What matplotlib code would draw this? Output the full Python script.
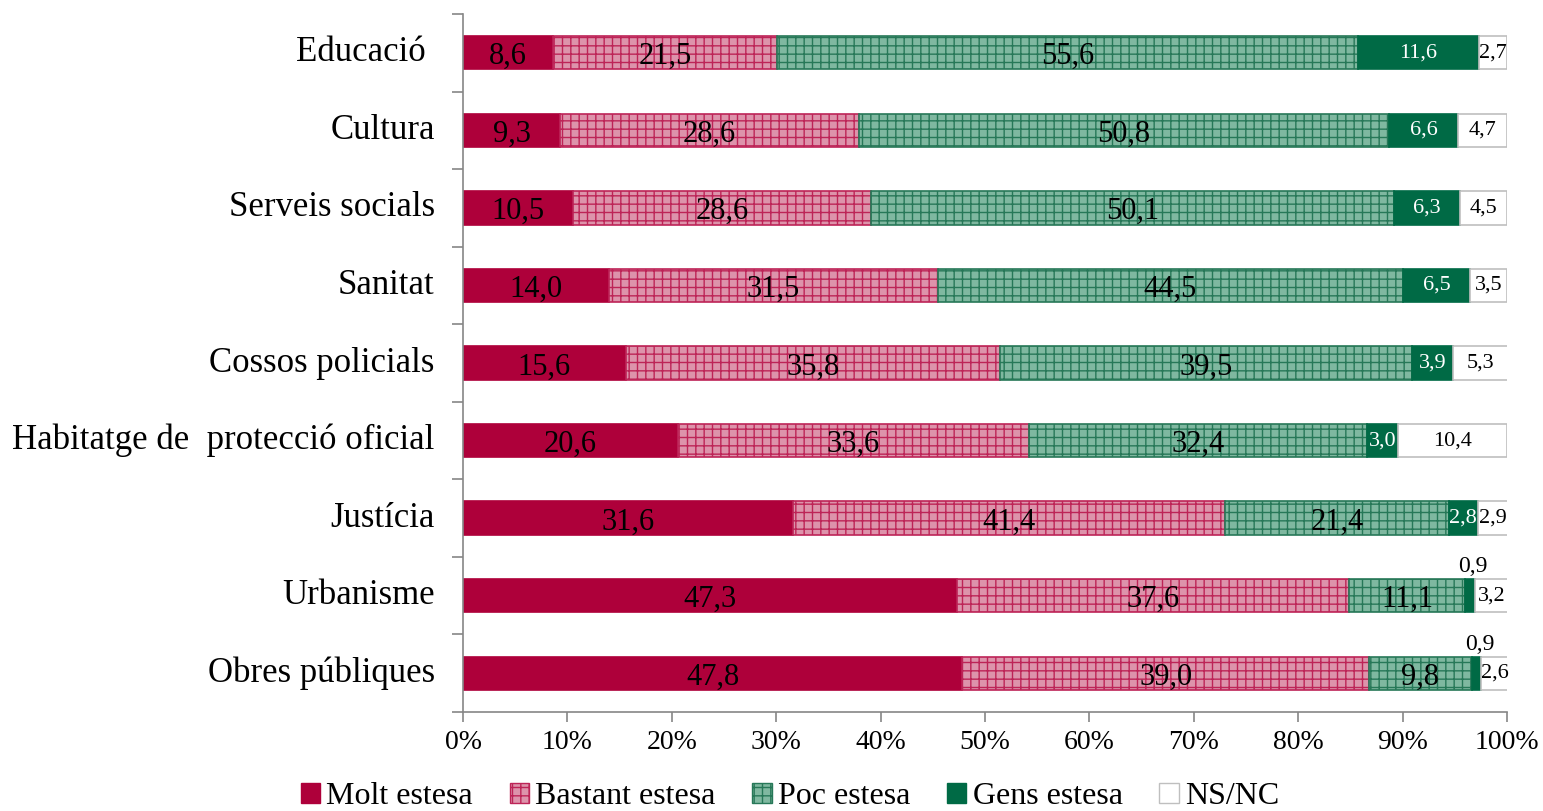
import matplotlib
matplotlib.use("Agg")
import matplotlib.pyplot as plt
import numpy as np
from matplotlib.patches import Patch

plt.rcParams["font.family"] = ["Liberation Serif", "DejaVu Serif"]
plt.rcParams["hatch.linewidth"] = 1.0

# ── data ────────────────────────────────────────────────
categories = ["Educació ", "Cultura", "Serveis socials", "Sanitat", "Cossos policials",
              "Habitatge de  protecció oficial", "Justícia", "Urbanisme", "Obres públiques"]
series = ["Molt estesa", "Bastant estesa", "Poc estesa", "Gens estesa", "NS/NC"]
molt = [8.6, 9.3, 10.5, 14.0, 15.6, 20.6, 31.6, 47.3, 47.8]
bastant = [21.5, 28.6, 28.6, 31.5, 35.8, 33.6, 41.4, 37.6, 39.0]
poc = [55.6, 50.8, 50.1, 44.5, 39.5, 32.4, 21.4, 11.1, 9.8]
gens = [11.6, 6.6, 6.3, 6.5, 3.9, 3.0, 2.8, 0.9, 0.9]
nsnc = [2.7, 4.7, 4.5, 3.5, 5.3, 10.4, 2.9, 3.2, 2.6]
xticks = [0, 10, 20, 30, 40, 50, 60, 70, 80, 90, 100]

# ── styles ──────────────────────────────────────────────
styles = [
    dict(color="#ae003a", edgecolor="#ae003a"),
    dict(color="#dd93ab", edgecolor="#bd2457", hatch="++"),
    dict(color="#7fb8a0", edgecolor="#277858", hatch="++"),
    dict(color="#006a45", edgecolor="#006a45"),
    dict(color="white", edgecolor="#bfbfbf"),
]

fig = plt.figure(figsize=(15.43, 8.11), dpi=100)
ax = fig.add_axes([463 / 1543, 1 - 712 / 811, (1507 - 463) / 1543, (712 - 14) / 811])

y = np.arange(len(categories))
h = 0.43
data = [molt, bastant, poc, gens, nsnc]
left = np.zeros(len(categories))
for vals, st, name in zip(data, styles, series):
    vals = np.array(vals)
    ax.barh(y, vals, height=h, left=left, linewidth=1.2, label=name, **st)
    left = left + vals

# value labels
left = np.zeros(len(categories))
for si, vals in enumerate(data):
    for i, v in enumerate(vals):
        txt = f"{v:.1f}".replace(".", ",")
        cx = left[i] + v / 2
        if si < 3:
            ax.text(cx, i + 0.05, txt, ha="center", va="center", fontsize=22, color="black")
        elif si == 3:
            if v < 2:
                ax.text(cx + 0.3, i - 0.37, txt, ha="center", va="center", fontsize=17,
                        color="black")
            else:
                ax.text(cx, i, txt, ha="center", va="center", fontsize=16, color="white")
        else:
            ax.text(cx, i, txt, ha="center", va="center", fontsize=16, color="black")
    left = left + np.array(vals)

ax.set_xlim(0, 100)
ax.set_ylim(len(categories) - 0.5, -0.5)
ax.set_xticks(xticks)
ax.set_xticklabels([f"{t}%" for t in xticks], fontsize=20)
ax.set_yticks(np.arange(-0.5, len(categories)), labels=[""] * (len(categories) + 1))
for i, c in enumerate(categories):
    ax.text(-2.7, i, c, ha="right", va="center", fontsize=25)
ax.tick_params(axis="y", length=8, color="#868686", width=1.2, direction="out")
ax.tick_params(axis="x", length=7, color="#868686", width=1.2, direction="out", pad=6)
for s in ["top", "right"]:
    ax.spines[s].set_visible(False)
for s in ["left", "bottom"]:
    ax.spines[s].set_color("#868686")
    ax.spines[s].set_linewidth(1.2)

handles = [Patch(facecolor=st["color"], edgecolor=st["edgecolor"], hatch=st.get("hatch"),
                 label=n) for st, n in zip(styles, series)]
fig.legend(handles=handles, loc="lower center", bbox_to_anchor=(0.512, -0.036), ncol=5,
           frameon=False, fontsize=23, handlelength=0.6, handleheight=0.6,
           handletextpad=0.2, columnspacing=1.15)

fig.savefig("out.png", dpi=100)
